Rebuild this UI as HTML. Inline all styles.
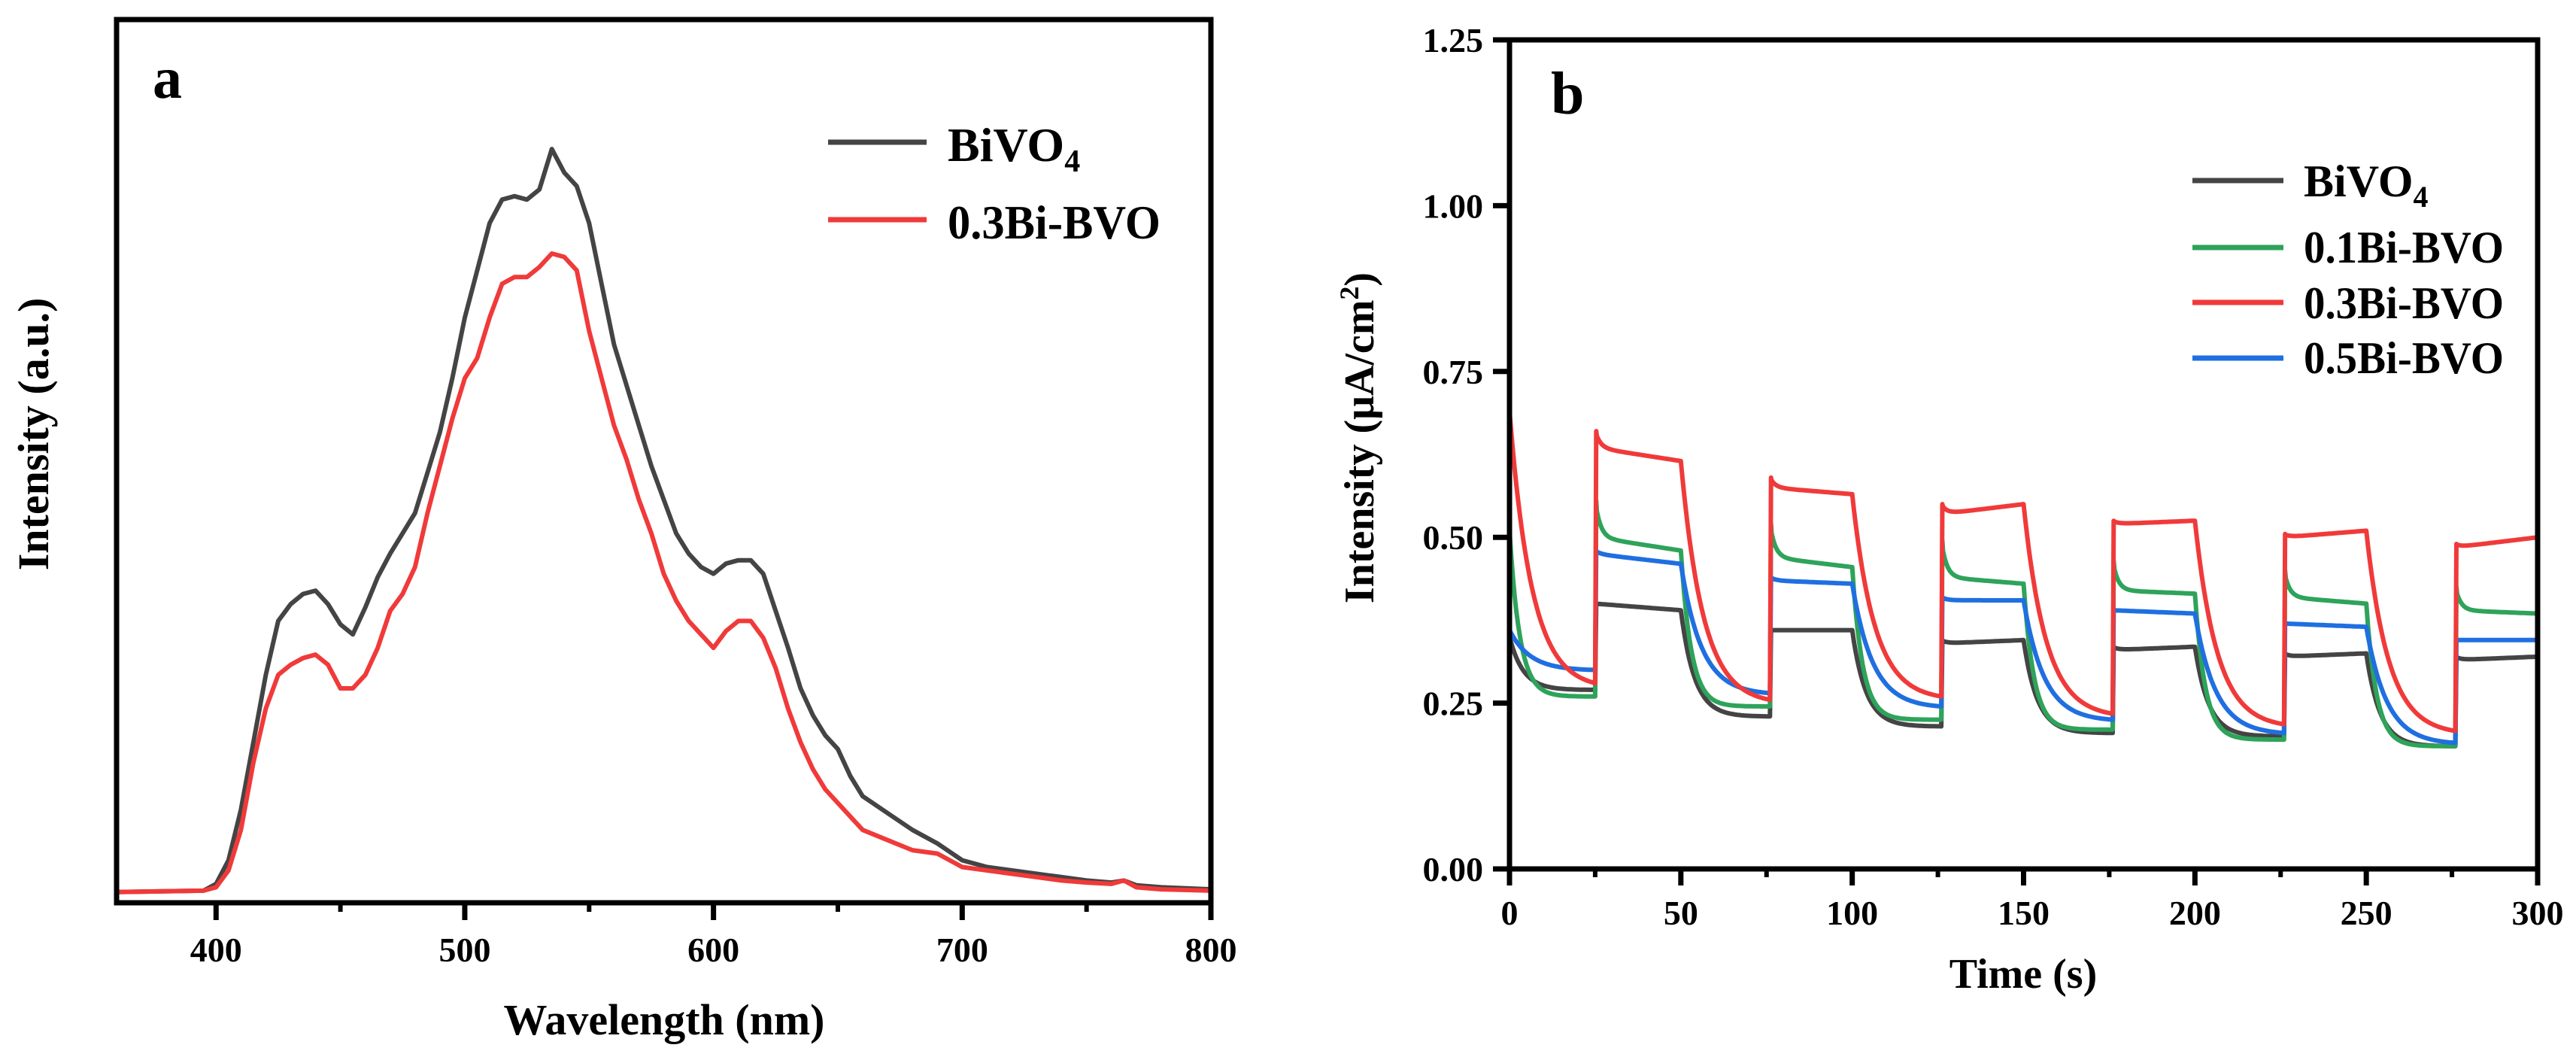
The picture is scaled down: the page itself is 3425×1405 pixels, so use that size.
<!DOCTYPE html>
<html><head><meta charset="utf-8"><style>
html,body{margin:0;padding:0;background:#fff}
svg{display:block}
text{font-family:"Liberation Serif",serif;font-weight:bold;fill:#000}
</style></head><body>
<svg id="svg" width="3425" height="1405" viewBox="0 0 3425 1405" xmlns="http://www.w3.org/2000/svg">
<g id="ga"></g>
<g id="gb"></g>
</svg>
<script>
// ---- Chart a data ----
const waveA = [360,395,400,405,410,415,420,425,430,435,440,445,450,455,460,465,470,475,480,485,490,495,500,505,510,515,520,525,530,535,540,545,550,555,560,565,570,575,580,585,590,595,600,605,610,615,620,625,630,635,640,645,650,655,660,670,680,690,700,710,720,730,740,750,760,765,770,780,800];
const bivo4A = [1.6,1.8,2.8,6.3,13.8,23.8,33.8,41.8,44.3,45.8,46.3,44.3,41.3,39.8,43.8,48.3,51.8,54.8,57.8,63.8,69.8,77.8,86.8,93.8,100.8,104.3,104.8,104.3,105.8,111.8,108.3,106.3,100.8,91.8,82.8,76.8,70.8,64.8,59.8,54.8,51.8,49.8,48.8,50.3,50.8,50.8,48.8,43.3,37.8,31.8,27.8,24.8,22.8,18.8,15.8,13.3,10.8,8.8,6.3,5.3,4.8,4.3,3.8,3.3,3.0,3.3,2.6,2.3,2.0];
const bi03A = [1.6,1.8,2.3,4.8,10.8,20.8,28.8,33.8,35.3,36.3,36.8,35.3,31.8,31.8,33.8,37.8,43.3,45.8,49.8,57.8,64.8,71.8,77.8,80.8,86.8,91.8,92.8,92.8,94.3,96.3,95.8,93.8,84.8,77.8,70.8,65.8,59.8,54.8,48.8,44.8,41.8,39.8,37.8,40.3,41.8,41.8,39.3,34.8,28.8,23.8,19.8,16.8,14.8,12.8,10.8,9.3,7.8,7.3,5.3,4.8,4.3,3.8,3.3,3.0,2.8,3.3,2.3,2.0,1.8];
const xTicksA = [400,500,600,700,800];
const xMinorA = [450,550,650,750];

// ---- Chart b data ----
const onTimes = [25,76,126,176,226,276];
const offTimes = [0,50,100,150,200,250];
const yTicksB = [0,0.25,0.5,0.75,1.0,1.25];
const yTickLabelsB = ["0.00","0.25","0.50","0.75","1.00","1.25"];
const xTicksB = [0,50,100,150,200,250,300];
const blackOffStart=0.35, blackOffEnd=[0.27,0.23,0.215,0.205,0.20,0.185], blackPeak=[0.40,0.36,0.345,0.335,0.325,0.32], blackOnStart=[0.40,0.36,0.34,0.33,0.32,0.315], blackOnEnd=[0.39,0.36,0.345,0.335,0.325,0.32];
const greenOffStart=0.51, greenOffEnd=[0.26,0.245,0.225,0.21,0.195,0.185], greenPeak=[0.555,0.52,0.495,0.465,0.45,0.425], greenOnStart=[0.50,0.47,0.44,0.42,0.41,0.39], greenOnEnd=[0.48,0.455,0.43,0.415,0.40,0.385];
const redOffStart=0.69, redOffEnd=[0.28,0.255,0.26,0.234,0.218,0.208], redPeak=[0.66,0.59,0.55,0.525,0.505,0.49], redOnStart=[0.635,0.575,0.535,0.52,0.50,0.485], redOnEnd=[0.615,0.565,0.55,0.525,0.51,0.50];
const blueOffStart=0.36, blueOffEnd=[0.30,0.265,0.245,0.225,0.205,0.19], bluePeak=[0.48,0.44,0.41,0.39,0.37,0.345], blueOnStart=[0.475,0.435,0.405,0.39,0.37,0.345], blueOnEnd=[0.46,0.43,0.405,0.385,0.365,0.345];

const NS="http://www.w3.org/2000/svg";
function mk(parent,tag,attrs,txt){const e=document.createElementNS(NS,tag);for(const k in attrs)e.setAttribute(k,attrs[k]);if(txt!==undefined)e.textContent=txt;parent.appendChild(e);return e;}

// ===== Chart a =====
const ga=document.getElementById('ga');
const AL=155,AR=1610,AT=26,AB=1200;
const xa=w=>AL+(w-360)*(AR-AL)/440;
const ya=v=>AB-v*(AB-AT)/131;
function lineA(vals,color,name){
  let d='';waveA.forEach((w,i)=>{d+=(i?'L':'M')+xa(w).toFixed(1)+' '+ya(vals[i]).toFixed(1);});
  const p=mk(ga,'path',{d:d,fill:'none',stroke:color,'stroke-width':6,'stroke-linejoin':'round'});
  
  
}
lineA(bivo4A,'#444','bivo4-line');
lineA(bi03A,'#f03a3a','bi03-line');
const frameA=mk(ga,'rect',{x:AL,y:AT,width:AR-AL,height:AB-AT,fill:'none',stroke:'#000','stroke-width':7});


xTicksA.forEach(w=>{
  const t=mk(ga,'line',{x1:xa(w),x2:xa(w),y1:AB,y2:AB+23,stroke:'#000','stroke-width':7});
  
  
  const l=mk(ga,'text',{x:xa(w),y:1278,'font-size':46,'text-anchor':'middle'},String(w));
  
  
});
xMinorA.forEach(w=>{
  const t=mk(ga,'line',{x1:xa(w),x2:xa(w),y1:AB,y2:AB+12,stroke:'#000','stroke-width':6});
  
  
});
</script>
<script>
(function(){
const ga=document.getElementById('ga');
function T(attrs,txt,name){const e=document.createElementNS("http://www.w3.org/2000/svg",'text');for(const k in attrs)e.setAttribute(k,attrs[k]);e.textContent=txt;ga.appendChild(e);

return e;}
T({x:203,y:130,'font-size':78},'a','panel-label-a');
T({x:883,y:1375,'font-size':58,'text-anchor':'middle'},'Wavelength (nm)','x-axis-title');
T({x:64,y:577,'font-size':58,'text-anchor':'middle',transform:'rotate(-90 64 577)'},'Intensity (a.u.)','y-axis-title');
})();
</script>
<script>
// ===== Chart b =====
const gb=document.getElementById('gb');
const BL=2007,BR=3374,BT=53,BB=1155;
const xb=t=>BL+t*(BR-BL)/300;
const yb=v=>BB-v*(BB-BT)/1.25;
function seriesB(offStart,offEnd,peak,onStart,onEnd,tau,color,name){
  const pts=[];
  let prev=offStart;
  for(let c=0;c<6;c++){
    const t0=offTimes[c], t1=onTimes[c];
    const span=t1-t0;
    const norm=1-Math.exp(-span/tau);
    for(let t=t0;t<=t1;t+=0.5){
      const f=(1-Math.exp(-(t-t0)/tau))/norm;
      pts.push([t,prev+(offEnd[c]-prev)*f]);
    }
    const tEnd=(c<5)?offTimes[c+1]:300;
    pts.push([t1+0.3,peak[c]]);
    for(let t=t1+0.5;t<=tEnd;t+=0.5){
      const lin=onStart[c]+(onEnd[c]-onStart[c])*(t-t1)/(tEnd-t1);
      pts.push([t,lin+(peak[c]-onStart[c])*Math.exp(-(t-t1)/1.5)]);
    }
    prev=onEnd[c];
  }
  let d='';pts.forEach((p,i)=>{d+=(i?'L':'M')+xb(p[0]).toFixed(1)+' '+yb(p[1]).toFixed(1);});
  const path=document.createElementNS("http://www.w3.org/2000/svg",'path');
  path.setAttribute('d',d);path.setAttribute('fill','none');path.setAttribute('stroke',color);path.setAttribute('stroke-width',6);path.setAttribute('stroke-linejoin','round');
  
  
  gb.appendChild(path);
}
seriesB(blackOffStart,blackOffEnd,blackPeak,blackOnStart,blackOnEnd,4,'#444','bivo4-line');
seriesB(greenOffStart,greenOffEnd,greenPeak,greenOnStart,greenOnEnd,3,'#2ea35a','bi01-line');
seriesB(blueOffStart,blueOffEnd,bluePeak,blueOnStart,blueOnEnd,6,'#1f6fe0','bi05-line');
seriesB(redOffStart,redOffEnd,redPeak,redOnStart,redOnEnd,6.5,'#f03a3a','bi03-line');

function el(tag,attrs,txt){const e=document.createElementNS("http://www.w3.org/2000/svg",tag);for(const k in attrs)e.setAttribute(k,attrs[k]);if(txt!==undefined)e.textContent=txt;gb.appendChild(e);return e;}
const frameB=el('rect',{x:BL,y:BT,width:BR-BL,height:BB-BT,fill:'none',stroke:'#000','stroke-width':7});


yTicksB.forEach((v,i)=>{
  const t=el('line',{x1:BL-22,x2:BL,y1:yb(v),y2:yb(v),stroke:'#000','stroke-width':7});
  
  
  const l=el('text',{x:1972,y:yb(v)+16,'font-size':46,'text-anchor':'end'},yTickLabelsB[i]);
  
  
});
xTicksB.forEach(v=>{
  const t=el('line',{x1:xb(v),x2:xb(v),y1:BB,y2:BB+22,stroke:'#000','stroke-width':7});
  
  
  const l=el('text',{x:xb(v),y:1229,'font-size':46,'text-anchor':'middle'},String(v));
  
  
  if(v<300){
    const m=el('line',{x1:xb(v+25),x2:xb(v+25),y1:BB,y2:BB+11,stroke:'#000','stroke-width':6});
    
    
  }
});
const pb=el('text',{x:2062,y:151,'font-size':80},'b');


const xtb=el('text',{x:2690,y:1313,'font-size':56,'text-anchor':'middle'},'Time (s)');


const ytb=el('text',{x:1826,y:582,'font-size':56,'text-anchor':'middle',transform:'rotate(-90 1826 582)'});


ytb.innerHTML='Intensity (μA/cm<tspan dy="-20" font-size="36">2</tspan><tspan dy="20">)</tspan>';
</script>
<svg style="position:absolute;left:0;top:0" width="3425" height="1405">
<g font-family="Liberation Serif, serif" font-weight="bold" font-size="64">
  <line x1="1101" x2="1232" y1="189" y2="189" stroke="#444" stroke-width="7"/>
  <text x="1260" y="214">BiVO<tspan font-size="42" dy="14">4</tspan></text>
  <line x1="1101" x2="1232" y1="292" y2="292" stroke="#f03a3a" stroke-width="7"/>
  <text x="1260" y="317" textLength="283" lengthAdjust="spacingAndGlyphs">0.3Bi-BVO</text>
</g>
<g font-family="Liberation Serif, serif" font-weight="bold" font-size="60">
  <line x1="2915" x2="3036" y1="240" y2="240" stroke="#444" stroke-width="7"/>
  <text x="3063" y="261">BiVO<tspan font-size="40" dy="14">4</tspan></text>
  <line x1="2915" x2="3036" y1="329" y2="329" stroke="#2ea35a" stroke-width="7"/>
  <text x="3063" y="349" textLength="266" lengthAdjust="spacingAndGlyphs">0.1Bi-BVO</text>
  <line x1="2915" x2="3036" y1="402" y2="402" stroke="#f03a3a" stroke-width="7"/>
  <text x="3063" y="423" textLength="266" lengthAdjust="spacingAndGlyphs">0.3Bi-BVO</text>
  <line x1="2915" x2="3036" y1="476" y2="476" stroke="#1f6fe0" stroke-width="7"/>
  <text x="3063" y="496" textLength="266" lengthAdjust="spacingAndGlyphs">0.5Bi-BVO</text>
</g>
</svg>
</body></html>
